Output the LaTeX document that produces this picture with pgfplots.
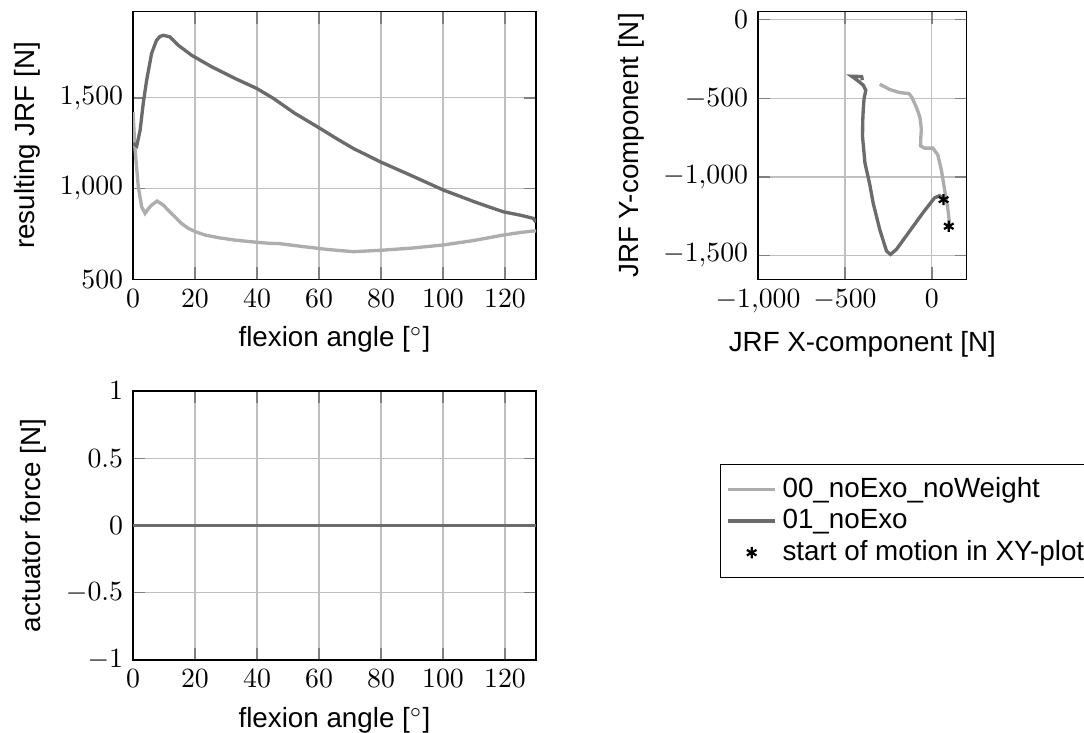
\documentclass[border=0pt]{standalone}
\usepackage{fontspec}
\setmainfont{Liberation Sans}
\usepackage{pgfplots}
\pgfplotsset{compat=1.18}
\definecolor{lightc}{gray}{0.68}
\definecolor{darkc}{gray}{0.42}
\pgfplotsset{
  every axis/.append style={scale only axis, grid=major, line width=0.5pt, tick style={line width=0.5pt}},
  lightline/.style={color=lightc, line width=1.2pt, no marks},
  darkline/.style={color=darkc, line width=1.2pt, no marks},
}
\begin{document}
\begin{tikzpicture}
\path[use as bounding box] (0,0) rectangle (390.24pt,263.88pt);
% top-left: resulting JRF
\begin{axis}[at={(47.88pt,163.33pt)}, anchor=south west,
  width=145.08pt, height=96.34pt,
  xmin=0, xmax=130, ymin=500, ymax=1975,
  xtick={0,20,40,60,80,100,120}, ytick={500,1000,1500},
  xlabel={flexion angle [$^\circ$]}, ylabel={resulting JRF [N]}]
\addplot[lightline] coordinates {
(0,1423) (0.6,1230) (1.7,1010) (2.8,900) (3.9,863) (5,890) (6,909) (7.8,931) (9.8,909)
(11.5,878) (13.5,845) (15.5,810) (17.8,781) (20.5,760) (23.2,744) (28,728) (32.9,716) (38,707)
(44.2,698) (47,697) (55,680) (63,664) (71.1,652) (80,660) (90,672) (100,689) (110,714) (119.5,744) (125,758) (129,766) (130,766)
};
\addplot[darkline] coordinates {
(0,1249) (1.2,1234) (2.3,1322) (3.3,1469) (4.4,1597) (6,1745) (7.6,1818) (8.7,1838) (9.8,1845) (11.9,1836)
(14.6,1790) (18.9,1735) (25.4,1671) (32.9,1607) (39.9,1552) (45.3,1497) (52,1417) (60.3,1332) (66,1272)
(71.1,1221) (79.7,1148) (90,1070) (100.1,992) (110,928) (115,898) (119.5,872) (125,853) (129.1,836) (130,815)
};
\end{axis}
% top-right: XY plot
\begin{axis}[at={(272.88pt,163.33pt)}, anchor=south west,
  width=75.13pt, height=96.34pt,
  xmin=-1000, xmax=200, ymin=-1650, ymax=50,
  xtick={-1000,-500,0}, ytick={-1500,-1000,-500,0},
  xlabel={JRF X-component [N]}, ylabel={JRF Y-component [N]},
  legend style={at={(-0.182,-0.690)}, anchor=north west, draw=black, font=\normalsize,
    row sep=-1.2pt, inner xsep=2pt, inner ysep=2.5pt},
  legend cell align=left]
\addplot[lightline] coordinates {
(97,-1313) (101,-1292) (92,-1207) (73,-1081) (54,-955) (34,-860) (6,-817) (-42,-817) (-65,-803)
(-64,-750) (-61,-702) (-64,-660) (-70,-617) (-85,-570) (-99,-533) (-115,-495) (-132,-470) (-185,-464)
(-242,-445) (-275,-425) (-300,-411)
};
\addlegendentry{00\_noExo\_noWeight}
\addplot[darkline] coordinates {
(67,-1140) (44,-1119) (15,-1133) (-52,-1228) (-128,-1344) (-204,-1460) (-238,-1492) (-261,-1471)
(-300,-1334) (-338,-1165) (-357,-1049) (-385,-912) (-399,-744) (-398,-650) (-395,-575) (-390,-500)
(-380,-449) (-395,-417) (-424,-390) (-462,-360) (-404,-362) (-400,-385)
};
\addlegendentry{01\_noExo}
\addplot[only marks, mark=asterisk, mark size=2pt, black, line width=0.8pt] coordinates {
(67,-1144) (97,-1313)
};
\addlegendentry{start of motion in XY-plot}
\end{axis}
% bottom-left: actuator force
\begin{axis}[at={(47.88pt,26.28pt)}, anchor=south west,
  width=145.08pt, height=96.84pt,
  xmin=0, xmax=130, ymin=-1, ymax=1,
  xtick={0,20,40,60,80,100,120}, ytick={-1,-0.5,0,0.5,1},
  xlabel={flexion angle [$^\circ$]}, ylabel={actuator force [N]}]
\addplot[lightline] coordinates {(0,0) (130,0)};
\addplot[darkline] coordinates {(0,0) (130,0)};
\end{axis}
\end{tikzpicture}
\end{document}
